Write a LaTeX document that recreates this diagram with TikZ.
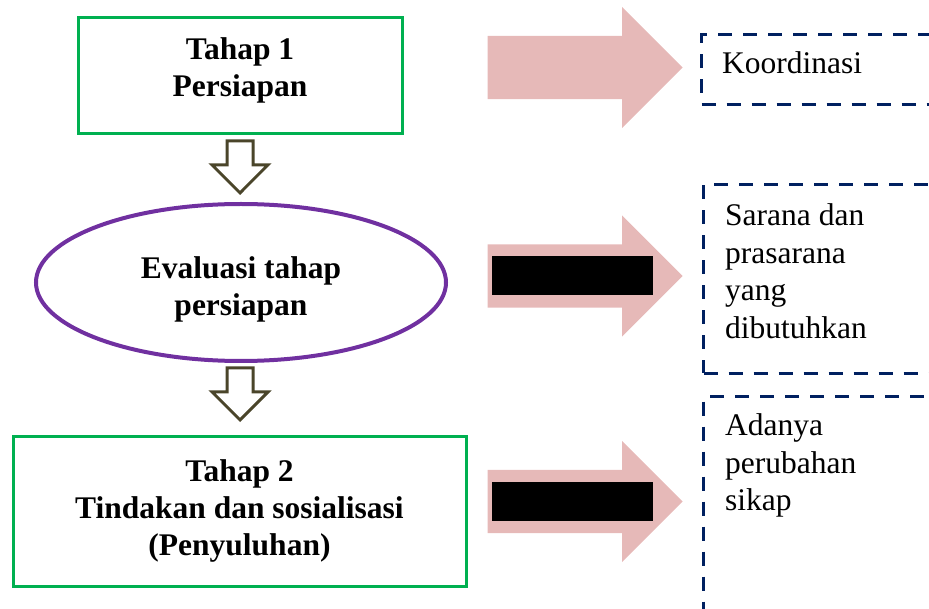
\documentclass[tikz,border=0pt]{standalone}
\usepackage{fontspec}
\setmainfont{Liberation Serif}
\usetikzlibrary{positioning}
\usetikzlibrary{shapes.geometric,shapes.arrows}
\usetikzlibrary{calc}

\definecolor{hijau}{HTML}{00B050}
\definecolor{ungu}{HTML}{7030A0}
\definecolor{zaitun}{HTML}{4A452A}
\definecolor{merahmuda}{HTML}{E6B9B8}
\definecolor{biru}{HTML}{002060}

\tikzset{
  tahap/.style={draw=hijau, line width=3pt, align=center, inner sep=0pt,
    font=\bfseries\fontsize{31.5}{37}\selectfont},
  evaluasi/.style={ellipse, draw=ungu, line width=4pt, align=center, inner sep=0pt,
    minimum width=410pt, minimum height=157pt, font=\bfseries\fontsize{31.5}{37}\selectfont},
  turun/.style={single arrow, draw=zaitun, fill=white, line width=3pt, inner sep=11.5pt,
    shape border rotate=270, minimum height=52pt, minimum width=53pt,
    single arrow head extend=15pt, anchor=tip},
  panah/.style={single arrow, fill=merahmuda, inner xsep=0pt, inner ysep=31.5pt,
    minimum height=195pt, single arrow head extend=29pt, anchor=tip},
  tutup/.style={fill=black, inner sep=0pt, minimum width=161pt, minimum height=39pt},
  hasil/.style={draw=biru, line width=3pt, dash pattern=on 14pt off 11pt,
    anchor=north west, minimum width=330pt, inner sep=0pt},
  ket/.style={anchor=north west, align=left, inner sep=0pt,
    font=\fontsize{31.5}{37.5}\selectfont}
}

\begin{document}
\begin{tikzpicture}[x=1pt,y=1pt]
    \clip (0,0) rectangle (929,-609);
    % kolom kiri
    \node[tahap, minimum width=324pt, minimum height=116pt, text depth=17pt] (tahap1) at (240,-76) {Tahap 1\\Persiapan};
    \node[evaluasi, text height=72pt] (eval) at (241,-282.5) {Evaluasi tahap\\persiapan};
    \node[tahap, minimum width=453pt, minimum height=150pt] (tahap2) at (239.5,-511) {Tahap 2\\Tindakan dan sosialisasi\\(Penyuluhan)};
    \node[turun] (dn1) at (240,-195) {};
    \node[turun] (dn2) at (240,-422) {};

    % panah ke kanan
    \node[panah] (pn1) at (683,-67.5) {};
    \node[panah] (pn2) at (683,-276) {};
    \node[panah] (pn3) at (683,-501.5) {};
    \node[tutup, right=4pt of pn2.tail] (tt2) {};
    \node[tutup, right=4pt of pn3.tail] (tt3) {};

    % kotak hasil
    \node[hasil, minimum height=70pt] (hasilA) at (700,-33) {};
    \node[hasil, minimum height=189pt] (hasilB) at (702,-183) {};
    \node[hasil, minimum height=260pt] (hasilC) at (702,-395) {};
    \node[ket] (ketA) at ($(hasilA.north west)+(22,-18.5)$) {Koordinasi};
    \node[ket] (ketB) at ($(hasilB.north west)+(23,-20.5)$) {Sarana dan\\prasarana\\yang\\dibutuhkan};
    \node[ket] (ketC) at ($(hasilC.north west)+(23,-18.5)$) {Adanya\\perubahan\\sikap};
\end{tikzpicture}
\end{document}
